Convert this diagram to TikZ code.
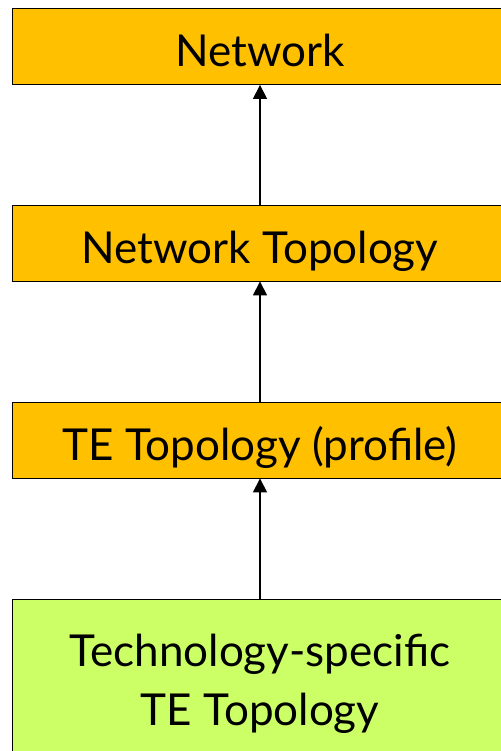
\documentclass[tikz,border=0pt]{standalone}
\usepackage{fontspec}
\setmainfont{Lato}
\usetikzlibrary{arrows.meta}

\definecolor{layer}{HTML}{FFC000}
\definecolor{techgreen}{HTML}{CCFF66}

\tikzset{
  layerbox/.style={draw=black, line width=0.8pt, fill=layer, rectangle,
    minimum width=496pt, minimum height=76pt, inner sep=0pt,
    text height=40pt, text depth=0pt,
    font=\fontsize{44}{59}\selectfont},
  techbox/.style={layerbox, fill=techgreen, minimum height=153pt, align=center,
    text height=99pt},
  up/.style={line width=1.2pt, -{Triangle[length=14pt,width=14pt]}}
}

\begin{document}
\begin{tikzpicture}[x=1pt, y=-1pt]
  \useasboundingbox (0,0) rectangle (500,751);

  \node [layerbox] (net)  at (260, 46.5) {Network};
  \node [layerbox] (ntop) at (260,243)   {Network Topology};
  \node [layerbox] (tetop) at (260,440)  {TE Topology (profile)};
  \node [techbox]  (tech) at (260,675.5) {Technology-specific\\TE Topology};

  \draw [up] (ntop)  -- (net);
  \draw [up] (tetop) -- (ntop);
  \draw [up] (tech)  -- (tetop);
\end{tikzpicture}
\end{document}
